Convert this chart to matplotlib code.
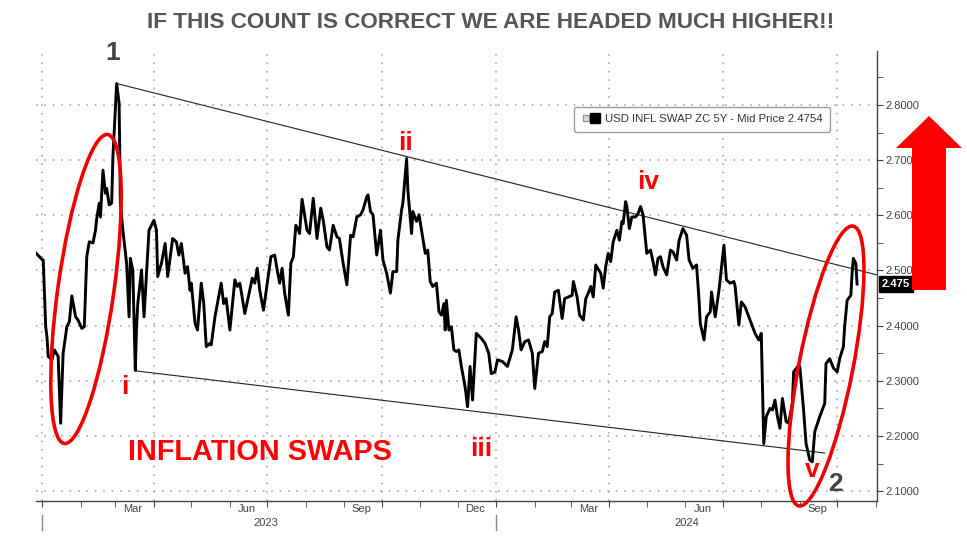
import pandas as pd
import matplotlib.pyplot as plt
import matplotlib.dates as mdates
import matplotlib.transforms as mtransforms
from matplotlib.patches import Ellipse, Polygon
from matplotlib.lines import Line2D
from matplotlib.legend_handler import HandlerTuple

# USD inflation swap zero coupon 5Y, mid price
days = [-5, 0, 1, 3, 4, 5, 8, 10, 13, 15, 17, 20, 22, 24, 27, 29, 32, 34, 36, 38,
        41, 43, 44, 46, 47, 49, 51, 52, 54, 56, 57, 60, 62, 63, 65, 68, 70, 71, 73, 75,
        76, 77, 80, 82, 86, 88, 90, 92, 93, 96, 99, 101, 105, 108, 110, 112, 115, 117, 119, 120,
        123, 125, 128, 130, 132, 135, 136, 139, 144, 146, 148, 151, 155, 157, 159, 163, 169, 171, 173, 175,
        178, 181, 184, 187, 189, 191, 193, 195, 198, 200, 202, 204, 206, 207, 209, 213, 215, 218, 221, 224,
        226, 229, 231, 234, 237, 239, 242, 245, 248, 250, 253, 256, 258, 261, 262, 264, 266, 269, 272, 274,
        277, 280, 282, 285, 286, 289, 290, 293, 294, 297, 298, 301, 303, 305, 308, 310, 312, 314, 317, 319,
        321, 323, 324, 325, 327, 329, 331, 333, 335, 337, 340, 342, 344, 346, 349, 353, 356, 359, 361, 364,
        366, 370, 374, 378, 381, 383, 385, 388, 391, 394, 396, 399, 402, 404, 406, 408, 410, 412, 415, 416,
        418, 420, 423, 426, 427, 430, 432, 435, 437, 439, 441, 443, 445, 449, 451, 453, 455, 457, 459, 462,
        464, 466, 467, 469, 470, 472, 474, 477, 479, 481, 483, 486, 489, 491, 493, 495, 497, 499, 502, 505,
        507, 510, 512, 515, 518, 520, 523, 526, 528, 529, 532, 534, 537, 538, 541, 544, 548, 550, 553, 556,
        557, 560, 562, 565, 569, 573, 576, 578, 580, 582, 585, 587, 589, 591, 593, 595, 598, 600, 603, 604,
        608, 609, 612, 614, 617, 619, 621, 625, 629, 630, 633, 636, 639, 641, 644, 645, 647, 650, 651, 652,
        654, 655]
swap = [2.532, 2.520, 2.519, 2.398, 2.380, 2.344, 2.338, 2.356, 2.344, 2.223, 2.350, 2.398, 2.407, 2.454, 2.416, 2.410, 2.395, 2.398, 2.525, 2.552,
        2.550, 2.573, 2.594, 2.622, 2.597, 2.682, 2.640, 2.649, 2.619, 2.622, 2.706, 2.839, 2.803, 2.622, 2.573, 2.513, 2.416, 2.522, 2.501, 2.319,
        2.398, 2.440, 2.501, 2.416, 2.573, 2.582, 2.591, 2.573, 2.489, 2.513, 2.549, 2.489, 2.558, 2.552, 2.528, 2.549, 2.495, 2.507, 2.464, 2.477,
        2.404, 2.392, 2.477, 2.440, 2.362, 2.368, 2.365, 2.416, 2.477, 2.440, 2.449, 2.392, 2.483, 2.471, 2.477, 2.422, 2.486, 2.477, 2.504, 2.464,
        2.428, 2.477, 2.525, 2.528, 2.501, 2.477, 2.504, 2.459, 2.419, 2.513, 2.525, 2.582, 2.573, 2.567, 2.629, 2.573, 2.567, 2.631, 2.558, 2.613,
        2.591, 2.543, 2.537, 2.582, 2.561, 2.558, 2.513, 2.474, 2.564, 2.561, 2.597, 2.601, 2.610, 2.634, 2.637, 2.607, 2.601, 2.528, 2.573, 2.519,
        2.495, 2.459, 2.498, 2.498, 2.555, 2.610, 2.622, 2.703, 2.646, 2.567, 2.607, 2.589, 2.601, 2.573, 2.531, 2.537, 2.480, 2.471, 2.477, 2.425,
        2.419, 2.440, 2.392, 2.446, 2.392, 2.398, 2.356, 2.353, 2.356, 2.326, 2.289, 2.253, 2.326, 2.265, 2.386, 2.377, 2.368, 2.350, 2.313, 2.316,
        2.338, 2.335, 2.326, 2.356, 2.416, 2.392, 2.356, 2.371, 2.374, 2.350, 2.286, 2.350, 2.353, 2.371, 2.362, 2.416, 2.422, 2.461, 2.464, 2.446,
        2.413, 2.449, 2.452, 2.455, 2.480, 2.452, 2.419, 2.410, 2.449, 2.459, 2.471, 2.452, 2.510, 2.495, 2.468, 2.507, 2.531, 2.516, 2.552, 2.573,
        2.555, 2.589, 2.585, 2.625, 2.616, 2.576, 2.597, 2.597, 2.603, 2.616, 2.601, 2.531, 2.537, 2.516, 2.492, 2.522, 2.525, 2.507, 2.492, 2.537,
        2.534, 2.519, 2.555, 2.576, 2.564, 2.519, 2.504, 2.510, 2.446, 2.404, 2.374, 2.416, 2.425, 2.461, 2.416, 2.464, 2.546, 2.483, 2.477, 2.480,
        2.471, 2.401, 2.443, 2.434, 2.410, 2.386, 2.374, 2.386, 2.186, 2.235, 2.250, 2.247, 2.265, 2.235, 2.214, 2.268, 2.226, 2.223, 2.259, 2.316,
        2.328, 2.326, 2.247, 2.186, 2.156, 2.153, 2.208, 2.235, 2.259, 2.331, 2.340, 2.323, 2.316, 2.340, 2.362, 2.398, 2.446, 2.455, 2.495, 2.522,
        2.513, 2.4754]
last_price = 2.4754

# hand-drawn trendlines (day, value)
upper_days = [60, 671]
upper_vals = [2.839, 2.492]
lower_days = [75, 629]
lower_vals = [2.318, 2.169]

yticks = [2.1, 2.2, 2.3, 2.4, 2.5, 2.6, 2.7, 2.8]
month_labels = ["Mar", "Jun", "Sep", "Dec", "Mar", "Jun", "Sep"]
month_dates = ["2023-03-15", "2023-06-15", "2023-09-15", "2023-12-15",
               "2024-03-15", "2024-06-15", "2024-09-15"]

start = pd.Timestamp("2023-01-01")
dates = start + pd.to_timedelta(days, unit="D")
x_left = start + pd.Timedelta(days=-4.8)
x_right = start + pd.Timedelta(days=671)

plt.rcParams['font.family'] = ['Liberation Sans', 'DejaVu Sans']

fig = plt.figure(figsize=(9.67, 5.55), dpi=100)
ax = fig.add_axes([36 / 967, 1 - 501 / 555, 841 / 967, 450 / 555])

ax.plot(dates, swap, color='black', lw=2.1, solid_joinstyle='round', zorder=3)
ax.plot(start + pd.to_timedelta(upper_days, unit="D"), upper_vals, color='#222222', lw=0.8, zorder=2)
ax.plot(start + pd.to_timedelta(lower_days, unit="D"), lower_vals, color='#222222', lw=0.8, zorder=2)

ax.set_xlim(x_left, x_right)
ax.set_ylim(2.082, 2.898)

# axes styling
for s in ['left', 'top']:
    ax.spines[s].set_visible(False)
for s in ['right', 'bottom']:
    ax.spines[s].set_color('#444444')
    ax.spines[s].set_linewidth(1.0)

ax.yaxis.tick_right()
ax.set_yticks(yticks)
ax.set_yticks([v + 0.05 for v in yticks], minor=True)
ax.set_yticklabels([f"{v:.4f}" for v in yticks])
ax.tick_params(axis='y', which='both', direction='out', length=4, color='#444444',
               labelsize=8, labelcolor='#444444', pad=2)

ax.xaxis.set_major_locator(mdates.MonthLocator(bymonth=[1, 4, 7, 10]))
ax.xaxis.set_minor_locator(mdates.MonthLocator())
ax.xaxis.set_major_formatter(plt.NullFormatter())
ax.tick_params(axis='x', which='both', direction='out', length=4, color='#444444')

ax.grid(True, which='major', color='#9a9a9a', linestyle=(0, (1, 4.5)), lw=1.1)

blend = mtransforms.blended_transform_factory(ax.transData, ax.transAxes)
for lab, d in zip(month_labels, month_dates):
    ax.text(pd.Timestamp(d), -0.018, lab, transform=blend, ha='center', va='center',
            fontsize=8, color='#444444')
jan24 = pd.Timestamp("2024-01-01")
ax.text(x_left + (jan24 - x_left) / 2, -0.049, "2023", transform=blend, ha='center', va='center',
        fontsize=8, color='#444444')
ax.text(jan24 + (x_right - jan24) / 2, -0.049, "2024", transform=blend, ha='center', va='center',
        fontsize=8, color='#444444')
for d in [start, jan24]:
    ax.plot([d, d], [-0.031, -0.064], transform=blend, color='#888888', lw=1, clip_on=False)

# legend
box = Line2D([], [], marker='s', markerfacecolor='#dddddd', markeredgecolor='#999999',
             ls='none', markersize=5)
sq = Line2D([], [], marker='s', color='black', ls='none', markersize=7.5)
leg = ax.legend([(box, sq)], [f"USD INFL SWAP ZC 5Y - Mid Price {last_price:.4f}"], loc='upper right',
                handler_map={tuple: HandlerTuple(ndivide=None, pad=0.1)},
                bbox_to_anchor=(0.944, 0.876), borderaxespad=0, fontsize=8.2, handlelength=1.5,
                handletextpad=0.55, borderpad=0.65, fancybox=True, framealpha=1,
                edgecolor='#999999', labelcolor='#333333')
leg.get_frame().set_linewidth(1.0)

# last price tag
yblend = mtransforms.blended_transform_factory(ax.transAxes, ax.transData)
ax.text(1.006, last_price, "2.475", transform=yblend, ha='left', va='center', fontsize=8,
        color='white', fontweight='bold',
        bbox=dict(boxstyle='square,pad=0.25', facecolor='black', edgecolor='black'), zorder=5)

# annotation overlay in pixel coordinates
ov = fig.add_axes([0, 0, 1, 1], zorder=10)
ov.set_xlim(0, 967)
ov.set_ylim(555, 0)
ov.axis('off')
ov.patch.set_alpha(0)

ov.add_patch(Ellipse((86, 289), 312, 56, angle=-82, fill=False, edgecolor='#ee0000', lw=2.6))
ov.add_patch(Ellipse((826, 366), 285, 54, angle=-79, fill=False, edgecolor='#ee0000', lw=2.6))
ov.add_patch(Polygon([(912, 290), (946, 290), (946, 148), (962, 148), (929, 116), (896, 148), (912, 148)],
                     closed=True, facecolor='#ff0000', edgecolor='none'))

ov.text(491, 22, "IF THIS COUNT IS CORRECT WE ARE HEADED MUCH HIGHER!!", ha='center', va='center',
        fontsize=16.2, fontweight='bold', color='#555555')
ov.text(113, 53, "1", ha='center', va='center', fontsize=19, fontweight='bold', color='#444444')
ov.text(835, 484, "2", ha='center', va='center', fontsize=19, fontweight='bold', color='#444444')
red_labels = [("i", 125, 387), ("ii", 405, 143), ("iii", 481, 449), ("iv", 648, 182), ("v", 812, 470)]
for t, x, y in red_labels:
    ov.text(x, y, t, ha='center', va='center', fontsize=19, fontweight='bold', color='#ff0000')
ov.text(260, 452, "INFLATION SWAPS", ha='center', va='center', fontsize=20.8, fontweight='bold',
        color='#ff0000')

fig.savefig("out.png", dpi=100)
